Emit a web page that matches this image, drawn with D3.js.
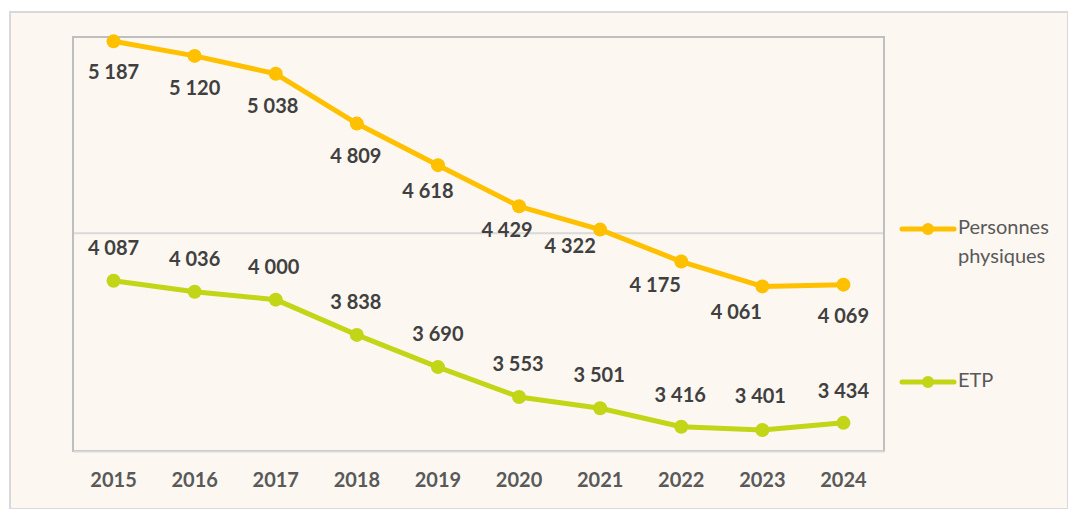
<!DOCTYPE html>
<html><head><meta charset="utf-8">
<script src="https://cdn.jsdelivr.net/npm/d3@7"></script>
<style>
html,body{margin:0;padding:0;background:#fff;}
svg{display:block;}
</style></head>
<body>
<svg id="c" width="1068" height="509"></svg>
<script>
const years = ["2015","2016","2017","2018","2019","2020","2021","2022","2023","2024"];
const personnes = [5187,5120,5038,4809,4618,4429,4322,4175,4061,4069];
const etp = [4087,4036,4000,3838,3690,3553,3501,3416,3401,3434];
const yTicks = [3300,4300];
const seriesNames = ["Personnes physiques","ETP"];

// label placement nudges (px) for the data labels, per point
const ppLabelDx = [0,0,-3,-1,-10,-12,-30,-26,-26,0];
const ppLabelDy = [33,34,34,34,28,26,18,25,27,33];
const etpLabelDx = [0,0,-2,-1,0,-1,-1,-1,-2,0];
const etpLabelDy = [-31,-31,-31,-31,-31,-31,-31,-30,-32,-30];

const svg = d3.select("#c");
const W = 1068, H = 509;
const plot = {left:73, right:884, top:37, bottom:451};
const colors = ["#FFC000","#C2D516"];
const fmt = v => d3.format(",")(v).replace(",", " ");

// outer chart area
svg.append("rect").attr("x",10).attr("y",12).attr("width",W-10).attr("height",H-12)
  .attr("fill","#FCF7F1").attr("stroke","#D9D9D9").attr("stroke-width",2);

const x = d3.scaleBand().domain(years).range([plot.left, plot.right]);
const y = d3.scaleLinear().domain([3300,5200]).range([plot.bottom+1, plot.top+1.5]);

// gridlines
svg.append("g").selectAll("line").data(yTicks.slice(1)).join("line")
  .attr("x1",plot.left).attr("x2",plot.right)
  .attr("y1",d=>y(d)-1).attr("y2",d=>y(d)-1)
  .attr("stroke","#D9D9D9").attr("stroke-width",2);

// plot border
svg.append("rect").attr("x",plot.left).attr("y",plot.top)
  .attr("width",plot.right-plot.left).attr("height",plot.bottom-plot.top)
  .attr("fill","none").attr("stroke","#BFBFBF").attr("stroke-width",2);

// x axis labels
const xAxis = d3.axisBottom(x).tickSize(0).tickPadding(0);
const gx = svg.append("g").attr("transform",`translate(0,${plot.bottom})`).call(xAxis);
gx.select(".domain").attr("stroke","#D9D9D9").attr("stroke-width",2);
gx.selectAll("text").attr("dy",null).attr("y",31).attr("dominant-baseline","middle")
  .attr("font-family","Lato, sans-serif").attr("font-weight","bold").attr("font-size","20px").attr("fill","#595959");

const cx = i => x(years[i]) + x.bandwidth()/2;
const line = d3.line().x((d,i)=>cx(i)).y(d=>y(d));
const data = [personnes, etp];
const dxs = [ppLabelDx, etpLabelDx];
const dys = [ppLabelDy, etpLabelDy];

data.forEach((vals,si)=>{
  const g = svg.append("g");
  g.append("path").attr("d",line(vals)).attr("fill","none")
    .attr("stroke",colors[si]).attr("stroke-width",5).attr("stroke-linejoin","round");
  g.selectAll("circle").data(vals).join("circle")
    .attr("cx",(d,i)=>cx(i)).attr("cy",d=>y(d)).attr("r",7)
    .attr("fill",colors[si]);
  g.selectAll("text").data(vals).join("text")
    .attr("x",(d,i)=>cx(i)+dxs[si][i]).attr("y",(d,i)=>y(d)+dys[si][i])
    .attr("text-anchor","middle").attr("dominant-baseline","middle")
    .attr("font-family","Lato, sans-serif").attr("font-weight","bold").attr("font-size","20px")
    .attr("fill","#404040").text(d=>fmt(d));
});

// legend
const legend = [
  {name:["Personnes","physiques"], y:229, c:colors[0]},
  {name:["ETP"], y:382, c:colors[1]}
];
legend.forEach(l=>{
  const g = svg.append("g");
  g.append("line").attr("x1",902).attr("x2",954).attr("y1",l.y).attr("y2",l.y)
    .attr("stroke",l.c).attr("stroke-width",5).attr("stroke-linecap","round");
  g.append("circle").attr("cx",928).attr("cy",l.y).attr("r",6).attr("fill",l.c);
  l.name.forEach((t,k)=>{
    g.append("text").attr("x",958).attr("y",l.y+k*29).attr("dominant-baseline","middle")
      .attr("font-family","Lato, sans-serif").attr("font-size","20px").attr("fill","#595959").text(t);
  });
});
</script>
</body></html>
